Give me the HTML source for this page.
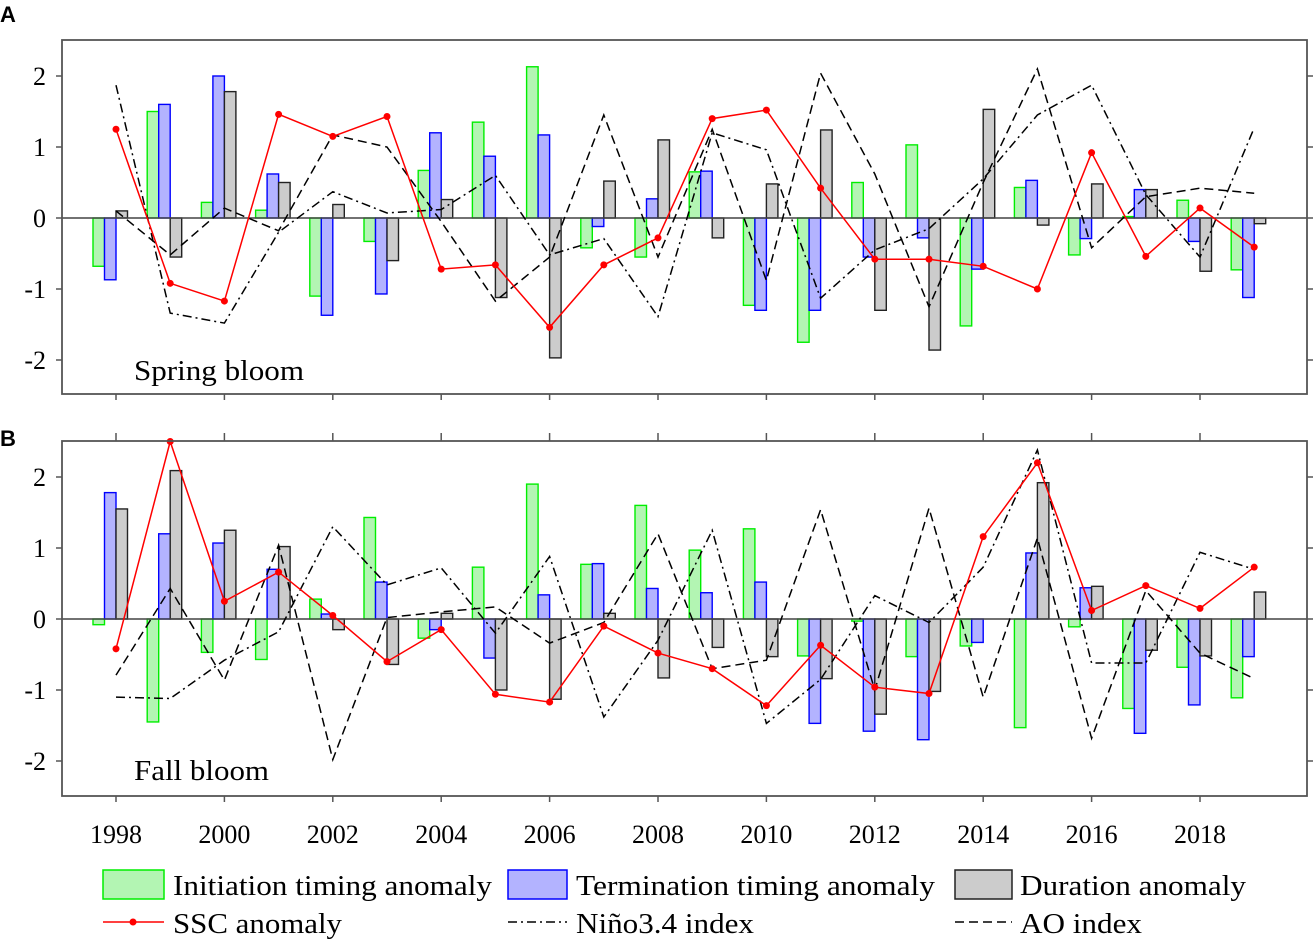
<!DOCTYPE html>
<html><head><meta charset="utf-8"><style>
html,body{margin:0;padding:0;background:#fff;}
svg{display:block;font-family:"Liberation Serif",serif;}
</style></head><body>
<svg id="chart" width="1316" height="941" viewBox="0 0 1316 941" xmlns="http://www.w3.org/2000/svg">
<text x="0" y="22" font-family="Liberation Sans, sans-serif" font-weight="bold" font-size="22">A</text>
<text x="0" y="446" font-family="Liberation Sans, sans-serif" font-weight="bold" font-size="22">B</text>
<g id="legend" font-size="28">
  <g><rect x="103" y="870" width="61" height="29" fill="#b3f5b3" stroke="#00ee00" stroke-width="1.5"/><text x="173" y="895" textLength="319" lengthAdjust="spacingAndGlyphs">Initiation timing anomaly</text></g>
  <g><rect x="508" y="870" width="59" height="29" fill="#b3b3ff" stroke="#0000ff" stroke-width="1.5"/><text x="576" y="895" textLength="359" lengthAdjust="spacingAndGlyphs">Termination timing anomaly</text></g>
  <g><rect x="955" y="870" width="57" height="29" fill="#cccccc" stroke="#222" stroke-width="1.5"/><text x="1020" y="895" textLength="226" lengthAdjust="spacingAndGlyphs">Duration anomaly</text></g>
  <g><line x1="103" y1="922" x2="164" y2="922" stroke="#ff0000" stroke-width="1.5"/><circle cx="133" cy="922" r="3.5" fill="#ff0000"/><text x="173" y="933" textLength="169" lengthAdjust="spacingAndGlyphs">SSC anomaly</text></g>
  <g><line x1="508" y1="922" x2="567" y2="922" stroke="#000" stroke-width="1.5" stroke-dasharray="9,4,2,4"/><text x="576" y="933" textLength="178" lengthAdjust="spacingAndGlyphs">Niño3.4 index</text></g>
  <g><line x1="955" y1="922" x2="1012" y2="922" stroke="#000" stroke-width="1.5" stroke-dasharray="9,5"/><text x="1020" y="933" textLength="122" lengthAdjust="spacingAndGlyphs">AO index</text></g>
</g>
</svg>
<script>
const years=[1998,1999,2000,2001,2002,2003,2004,2005,2006,2007,2008,2009,2010,2011,2012,2013,2014,2015,2016,2017,2018,2019];
const yTicks=[-2,-1,0,1,2];
const xTickYears=[1998,2000,2002,2004,2006,2008,2010,2012,2014,2016,2018];
// Spring bloom
const springInit=[-0.68,1.5,0.22,0.11,-1.1,-0.33,0.67,1.35,2.13,-0.42,-0.55,0.65,-1.23,-1.75,0.5,1.03,-1.52,0.43,-0.52,0.02,0.25,-0.73];
const springTerm=[-0.87,1.6,2.0,0.62,-1.37,-1.07,1.2,0.87,1.17,-0.12,0.27,0.66,-1.3,-1.3,-0.55,-0.28,-0.72,0.53,-0.29,0.4,-0.33,-1.12];
const springDur=[0.1,-0.55,1.78,0.5,0.19,-0.6,0.26,-1.12,-1.97,0.52,1.1,-0.28,0.48,1.24,-1.3,-1.86,1.53,-0.1,0.48,0.4,-0.75,-0.08];
const springSSC=[1.25,-0.92,-1.17,1.46,1.15,1.43,-0.72,-0.66,-1.54,-0.66,-0.28,1.4,1.52,0.42,-0.58,-0.58,-0.68,-1.0,0.92,-0.54,0.14,-0.41];
const springNino=[1.87,-1.34,-1.48,-0.2,0.37,0.07,0.12,0.6,-0.52,-0.29,-1.39,1.2,0.96,-1.13,-0.45,-0.15,0.55,1.45,1.87,0.33,-0.55,1.27];
const springAO=[0.1,-0.52,0.14,-0.18,1.17,1.0,-0.05,-1.17,-0.55,1.45,-0.55,1.25,-0.88,2.04,0.62,-1.25,0.5,2.1,-0.42,0.3,0.42,0.35];
// Fall bloom
const fallInit=[-0.08,-1.45,-0.47,-0.57,0.28,1.43,-0.27,0.73,1.9,0.77,1.6,0.97,1.27,-0.52,-0.03,-0.53,-0.38,-1.53,-0.11,-1.26,-0.68,-1.11];
const fallTerm=[1.78,1.2,1.07,0.7,0.07,0.52,-0.15,-0.55,0.34,0.78,0.43,0.37,0.52,-1.47,-1.58,-1.7,-0.33,0.93,0.44,-1.61,-1.21,-0.53];
const fallDur=[1.55,2.09,1.25,1.02,-0.15,-0.64,0.08,-1.0,-1.13,0.08,-0.83,-0.4,-0.53,-0.84,-1.34,-1.02,0.0,1.92,0.46,-0.44,-0.52,0.38];
const fallSSC=[-0.42,2.5,0.25,0.66,0.05,-0.6,-0.15,-1.06,-1.17,-0.1,-0.48,-0.7,-1.22,-0.37,-0.96,-1.05,1.16,2.2,0.12,0.47,0.15,0.73];
const fallNino=[-1.1,-1.12,-0.58,-0.18,1.3,0.48,0.72,-0.2,0.88,-1.38,-0.3,1.25,-1.47,-0.85,0.33,-0.05,0.73,2.38,-0.62,-0.62,0.94,0.7];
const fallAO=[-0.79,0.43,-0.86,1.04,-1.98,0.02,0.1,0.17,-0.34,-0.05,1.2,-0.7,-0.58,1.54,-1.0,1.56,-1.1,1.14,-1.68,0.4,-0.48,-0.84];

const NS='http://www.w3.org/2000/svg';
const svg=document.getElementById('chart');
const X0=62,X1=1307;
const xScale=yr=>116+(yr-1998)*54.2;
function mk(tag,attrs,parent){const e=document.createElementNS(NS,tag);for(const k in attrs)e.setAttribute(k,attrs[k]);(parent||svg).appendChild(e);return e;}

function panel(key,top,bottom,zeroY,init,term,dur,ssc,nino,ao,title,titleY,titleLen,topTicks,bottomLabels){
  const yScale=v=>zeroY-v*71;
  const g=mk('g',{});
  
  
  const series=[[init,-23,'#b3f5b3','#00ee00','initiation-bar'],[term,-11.5,'#b3b3ff','#0000ff','termination-bar'],[dur,0,'#cccccc','#222','duration-bar']];
  series.forEach(([arr,off,fill,stroke,nm])=>{
    arr.forEach((v,i)=>{
      const y0=yScale(0),y1=yScale(v);
      const r=mk('rect',{x:xScale(years[i])+off,y:Math.min(y0,y1),width:11.5,height:Math.abs(y1-y0),fill:fill,stroke:stroke,'stroke-width':1.4},g);
      
      
    });
  });
  const z=mk('line',{x1:X0,x2:X1,y1:yScale(0),y2:yScale(0),stroke:'#444','stroke-width':1.5},g);
  
  
  const pts=a=>a.map((v,i)=>xScale(years[i]).toFixed(1)+','+yScale(v).toFixed(1)).join(' ');
  const ln=mk('polyline',{points:pts(nino),fill:'none',stroke:'#000','stroke-width':1.5,'stroke-dasharray':'9,4,2,4'},g);
  
  
  const la=mk('polyline',{points:pts(ao),fill:'none',stroke:'#000','stroke-width':1.5,'stroke-dasharray':'9,5'},g);
  
  
  const ls=mk('polyline',{points:pts(ssc),fill:'none',stroke:'#ff0000','stroke-width':1.5},g);
  
  
  ssc.forEach((v,i)=>{
    const c=mk('circle',{cx:xScale(years[i]),cy:yScale(v),r:3.5,fill:'#ff0000'},g);
    
    
  });
  const f=mk('rect',{x:X0,y:top,width:X1-X0,height:bottom-top,fill:'none',stroke:'#555','stroke-width':1.8},g);
  
  
  yTicks.forEach(t=>{
    const y=yScale(t);
    mk('line',{x1:X0-6,x2:X0,y1:y,y2:y,stroke:'#555','stroke-width':1.5},g);
    mk('line',{x1:X1,x2:X1+6,y1:y,y2:y,stroke:'#555','stroke-width':1.5},g);
    const tl=mk('text',{x:46,y:y+9,'text-anchor':'end','font-size':26},g);
    tl.textContent=t<0?'-'+Math.abs(t):String(t);
    
    
  });
  xTickYears.forEach(yr=>{
    const x=xScale(yr);
    mk('line',{x1:x,x2:x,y1:bottom,y2:bottom+6,stroke:'#555','stroke-width':1.5},g);
    if(topTicks) mk('line',{x1:x,x2:x,y1:top-8,y2:top,stroke:'#555','stroke-width':1.5},g);
    if(bottomLabels){
      const tl=mk('text',{x:x,y:bottom+47,'text-anchor':'middle','font-size':26},g);
      tl.textContent=String(yr);
      
      
    }
  });
  const tt=mk('text',{x:134,y:titleY,'font-size':29,textLength:titleLen,lengthAdjust:'spacingAndGlyphs'},g);
  tt.textContent=title;
  
  
}
panel('spring',40,394,218,springInit,springTerm,springDur,springSSC,springNino,springAO,'Spring bloom',380,170,false,false);
panel('fall',441,796,619,fallInit,fallTerm,fallDur,fallSSC,fallNino,fallAO,'Fall bloom',780,135,true,true);
</script>
</body></html>
